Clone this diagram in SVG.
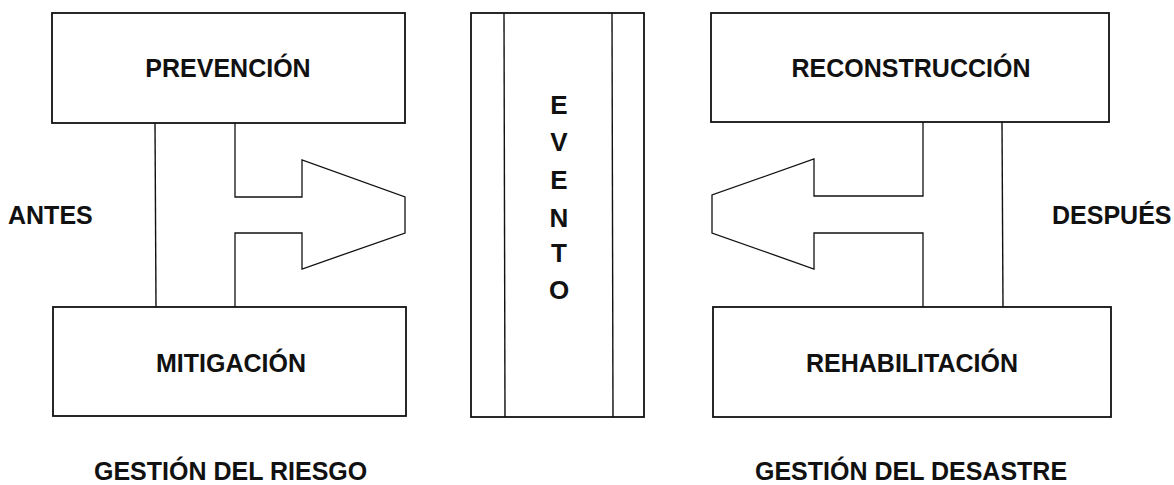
<svg xmlns="http://www.w3.org/2000/svg" width="1174" height="485" viewBox="0 0 1174 485">
<style>
.box{fill:#fff;stroke:#111;stroke-width:1.8}
.ln{fill:none;stroke:#111;stroke-width:1.4}
.arr{fill:#fff;stroke:#111;stroke-width:1.3;stroke-linejoin:miter}
text{font-family:"Liberation Sans",Arial,sans-serif;font-weight:bold;font-size:25px;fill:#111}
.c{text-anchor:middle}
.v{font-size:26px}
</style>
<rect width="1174" height="485" fill="#fff"/>
<g id="connectors">
<line class="ln" x1="155" y1="123" x2="156" y2="307"/>
<path class="arr" d="M235,123 V197 H302 V160 L405,197 V233 L302,269 V233 H235 V307"/>
<line class="ln" x1="1002" y1="122" x2="1003" y2="307"/>
<path class="arr" d="M923,122 V196 H814 V159 L712,195 V233 L814,269 V233 H923 V307"/>
</g>
<g id="prevencion">
<rect class="box" x="52" y="13" width="353" height="110"/>
<text class="c" x="228" y="77">PREVENCIÓN</text>
</g>
<g id="mitigacion">
<rect class="box" x="53" y="307" width="353" height="109"/>
<text class="c" x="231" y="372">MITIGACIÓN</text>
</g>
<g id="evento">
<rect class="box" x="471" y="13" width="173" height="404"/>
<line class="ln" x1="504" y1="13" x2="505" y2="417"/>
<line class="ln" x1="612" y1="13" x2="613" y2="417"/>
<text class="c v" x="559" y="114">E</text>
<text class="c v" x="559" y="151">V</text>
<text class="c v" x="559" y="189">E</text>
<text class="c v" x="559" y="227">N</text>
<text class="c v" x="559" y="262">T</text>
<text class="c v" x="559" y="299">O</text>
</g>
<g id="reconstruccion">
<rect class="box" x="711" y="13" width="398" height="109"/>
<text class="c" x="911" y="77">RECONSTRUCCIÓN</text>
</g>
<g id="rehabilitacion">
<rect class="box" x="713" y="307" width="398" height="110"/>
<text class="c" x="912" y="372">REHABILITACIÓN</text>
</g>
<g id="antes"><text x="8" y="224">ANTES</text></g>
<g id="despues"><text x="1052" y="224">DESPUÉS</text></g>
<g id="gestion-riesgo"><text x="94" y="480">GESTIÓN DEL RIESGO</text></g>
<g id="gestion-desastre"><text x="755" y="480">GESTIÓN DEL DESASTRE</text></g>
</svg>
